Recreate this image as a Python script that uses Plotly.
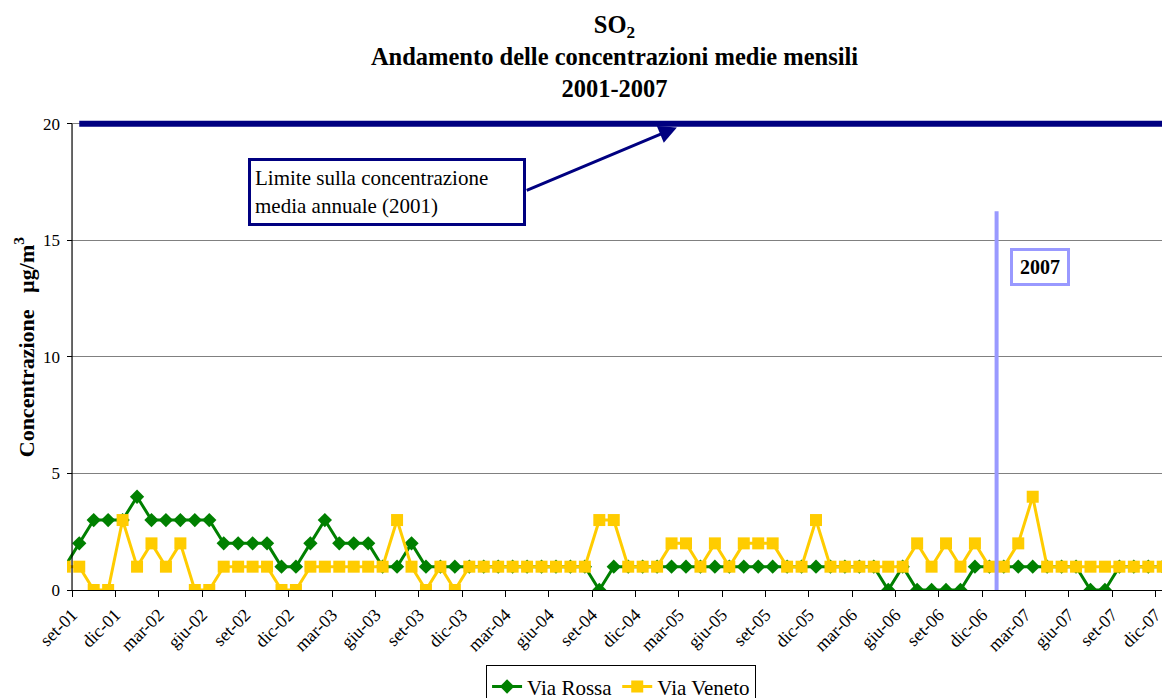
import plotly.graph_objects as go

# monthly averages, ago-01 .. dic-07 (first and last points fall at the plot edges)
months = [
    "ago-01", "set-01", "ott-01", "nov-01", "dic-01",
    "gen-02", "feb-02", "mar-02", "apr-02", "mag-02", "giu-02", "lug-02", "ago-02", "set-02", "ott-02", "nov-02", "dic-02",
    "gen-03", "feb-03", "mar-03", "apr-03", "mag-03", "giu-03", "lug-03", "ago-03", "set-03", "ott-03", "nov-03", "dic-03",
    "gen-04", "feb-04", "mar-04", "apr-04", "mag-04", "giu-04", "lug-04", "ago-04", "set-04", "ott-04", "nov-04", "dic-04",
    "gen-05", "feb-05", "mar-05", "apr-05", "mag-05", "giu-05", "lug-05", "ago-05", "set-05", "ott-05", "nov-05", "dic-05",
    "gen-06", "feb-06", "mar-06", "apr-06", "mag-06", "giu-06", "lug-06", "ago-06", "set-06", "ott-06", "nov-06", "dic-06",
    "gen-07", "feb-07", "mar-07", "apr-07", "mag-07", "giu-07", "lug-07", "ago-07", "set-07", "ott-07", "nov-07", "dic-07",
]

via_rossa = [
    1, 2, 3, 3, 3,
    4, 3, 3, 3, 3, 3, 2, 2, 2, 2, 1, 1,
    2, 3, 2, 2, 2, 1, 1, 2, 1, 1, 1, 1,
    1, 1, 1, 1, 1, 1, 1, 1, 0, 1, 1, 1,
    1, 1, 1, 1, 1, 1, 1, 1, 1, 1, 1, 1,
    1, 1, 1, 1, 0, 1, 0, 0, 0, 0, 1, 1,
    1, 1, 1, 1, 1, 1, 0, 0, 1, 1, 1, 1,
]

via_veneto = [
    1, 1, 0, 0, 3,
    1, 2, 1, 2, 0, 0, 1, 1, 1, 1, 0, 0,
    1, 1, 1, 1, 1, 1, 3, 1, 0, 1, 0, 1,
    1, 1, 1, 1, 1, 1, 1, 1, 3, 3, 1, 1,
    1, 2, 2, 1, 2, 1, 2, 2, 2, 1, 1, 3,
    1, 1, 1, 1, 1, 1, 2, 1, 2, 1, 2, 1,
    1, 2, 4, 1, 1, 1, 1, 1, 1, 1, 1, 1,
]

limit_value = 20  # limite sulla concentrazione media annuale (2001)
year_start_2007 = months.index("gen-07") - 0.5

x = list(range(len(months)))
tick_pos = [i - 0.5 for i in range(1, len(months), 3)]
tick_labels = months[1::3]

FONT = "Liberation Serif"
NAVY = "#000080"
LILAC = "#9999FF"

fig = go.Figure()

fig.add_trace(go.Scatter(
    x=x[1:], y=[limit_value] * (len(x) - 1),
    mode="lines", line=dict(color=NAVY, width=6),
    showlegend=False, hoverinfo="skip",
))

fig.add_trace(go.Scatter(
    x=x, y=via_rossa, name="Via Rossa", mode="lines+markers",
    line=dict(color="#008000", width=3),
    marker=dict(symbol="diamond", size=11, color="#008000"),
))

fig.add_trace(go.Scatter(
    x=x, y=via_veneto, name="Via Veneto", mode="lines+markers",
    line=dict(color="#FFCC00", width=3),
    marker=dict(symbol="square", size=12, color="#FFCC00"),
))

# y axis line sits half a month in from the plot edge
fig.add_shape(type="line", x0=0.5, x1=0.5, y0=0, y1=limit_value,
              line=dict(color="black", width=1.2), layer="above")
# start of 2007
fig.add_shape(type="line", x0=year_start_2007, x1=year_start_2007, y0=0, y1=16.24,
              line=dict(color=LILAC, width=4), layer="above")

fig.add_annotation(
    x=22.28, y=17.08, xref="x", yref="y",
    text="Limite sulla concentrazione<br>media annuale (2001)",
    showarrow=False, align="left", xanchor="center", yanchor="middle",
    width=264, height=54, borderpad=4,
    bordercolor=NAVY, borderwidth=3, bgcolor="white",
    font=dict(family=FONT, size=21, color="black"),
)
fig.add_annotation(
    x=42.37, y=19.84, xref="x", yref="y", text="",
    showarrow=True, ax=-151.7, ay=63.7,
    arrowhead=2, arrowsize=1.2, arrowwidth=3, arrowcolor=NAVY,
)
fig.add_annotation(
    x=67.53, y=13.86, xref="x", yref="y",
    text="<b>2007</b>", showarrow=False,
    xanchor="center", yanchor="middle",
    width=46, height=24, borderpad=4,
    bordercolor=LILAC, borderwidth=3, bgcolor="white",
    font=dict(family=FONT, size=20, color="black"),
)
fig.add_annotation(
    x=-0.039, y=0.516, xref="paper", yref="paper",
    text="<b>Concentrazione\u00a0\u00a0\u00a0µg/m<sup>3</sup></b>",
    textangle=-90, showarrow=False,
    xanchor="center", yanchor="middle",
    font=dict(family=FONT, size=22, color="black"),
)

fig.update_layout(
    width=1162, height=698, autosize=False,
    template="none",
    paper_bgcolor="white", plot_bgcolor="white",
    margin=dict(l=66.7, r=0, t=119.3, b=107.5, autoexpand=False),
    font=dict(family=FONT, color="black"),
    title=dict(
        text="<b>SO<sub>2</sub><br>Andamento delle concentrazioni medie mensili<br>2001-2007</b>",
        x=0.5, xref="paper", xanchor="center",
        y=0.953, yref="container", yanchor="top",
        font=dict(family=FONT, size=24.5, color="black"),
    ),
    showlegend=True,
    legend=dict(
        orientation="h", x=0.506, y=-0.16, xref="paper", yref="paper",
        xanchor="center", yanchor="top",
        bordercolor="black", borderwidth=1, bgcolor="white",
        font=dict(family=FONT, size=21, color="black"),
        itemwidth=30,
    ),
    xaxis=dict(
        range=[0.152, 75.95],
        tickmode="array", tickvals=tick_pos, ticktext=tick_labels,
        tickangle=-45, ticks="outside", ticklen=6, tickcolor="black",
        ticklabeloverflow="allow",
        showline=True, linecolor="black", linewidth=1.2,
        showgrid=False, zeroline=False, automargin=False,
        tickfont=dict(family=FONT, size=18, color="black"),
    ),
    yaxis=dict(
        range=[0, 20.2],
        tickmode="array", tickvals=[0, 5, 10, 15, 20],
        ticks="inside", ticklen=5, tickcolor="black",
        showline=False, zeroline=False,
        showgrid=True, gridcolor="#808080", gridwidth=1,
        automargin=False, ticklabelstandoff=6,
        tickfont=dict(family=FONT, size=17, color="black"),
    ),
)

# drop the default page margin so the figure sits at the window's top-left corner
fig.write_html(
    "out.html",
    config={"displayModeBar": False},
    post_script="document.body.style.margin = '0';",
)
